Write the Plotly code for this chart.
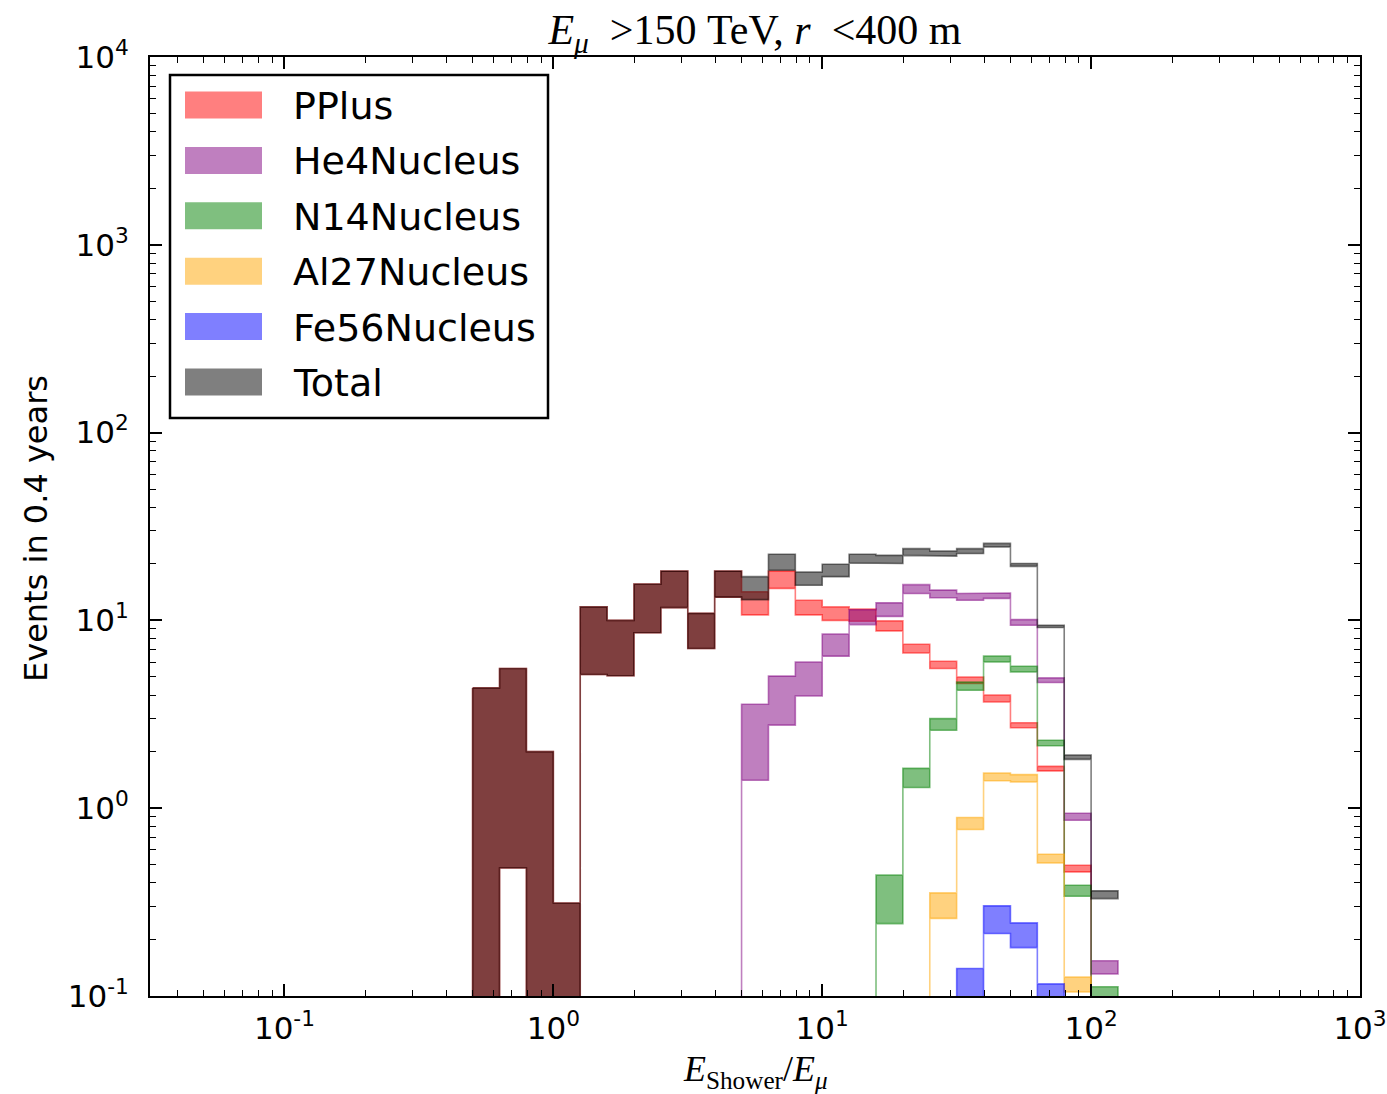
import plotly.graph_objects as go

# ---------------- data ----------------
bin_edges = [0.501, 0.631, 0.794, 1.0, 1.259, 1.585, 1.995, 2.512, 3.162, 3.981,
             5.012, 6.310, 7.943, 10.0, 12.59, 15.85, 19.95, 25.12, 31.62, 39.81,
             50.12, 63.10, 79.43, 100.0, 125.9]

pplus_upper = [4.37, 5.54, 2.0, 0.313, 11.8, 10.0, 15.6, 18.3, 10.9, 18.3,
               14.2, 18.3, 12.8, 11.8, 11.5, 9.94, 7.47, 6.06, 5.0, 4.0,
               2.85, 1.67, 0.497, 0]
pplus_lower = [0, 0.48, 0, 0, 5.15, 5.07, 8.6, 11.7, 7.08, 13.3,
               10.7, 14.8, 10.7, 10.0, 9.9, 8.79, 6.71, 5.54, 4.61, 3.68,
               2.68, 1.58, 0.458, 0]

he4_upper = [0, 0, 0, 0, 0, 0, 0, 0, 0, 0,
             3.58, 5.05, 6.01, 8.45, 11.4, 12.4, 15.5, 14.5, 13.9, 14.0,
             10.1, 4.94, 0.94, 0.154]
he4_lower = [0, 0, 0, 0, 0, 0, 0, 0, 0, 0,
             1.41, 2.77, 3.96, 6.45, 9.5, 10.5, 13.9, 13.2, 12.8, 13.1,
             9.43, 4.67, 0.863, 0.131]

n14_upper = [0, 0, 0, 0, 0, 0, 0, 0, 0, 0,
             0, 0, 0, 0, 0, 0.44, 1.63, 3.0, 4.7, 6.45,
             5.70, 2.30, 0.389, 0.112]
n14_lower = [0, 0, 0, 0, 0, 0, 0, 0, 0, 0,
             0, 0, 0, 0, 0, 0.243, 1.29, 2.6, 4.25, 6.01,
             5.32, 2.15, 0.340, 0]

al27_upper = [0, 0, 0, 0, 0, 0, 0, 0, 0, 0,
              0, 0, 0, 0, 0, 0, 0, 0.354, 0.892, 1.54,
              1.51, 0.569, 0.126, 0]
al27_lower = [0, 0, 0, 0, 0, 0, 0, 0, 0, 0,
              0, 0, 0, 0, 0, 0, 0, 0.259, 0.77, 1.40,
              1.38, 0.511, 0.105, 0]

fe56_upper = [0, 0, 0, 0, 0, 0, 0, 0, 0, 0,
              0, 0, 0, 0, 0, 0, 0, 0, 0.140, 0.302,
              0.245, 0.116, 0, 0]
fe56_lower = [0, 0, 0, 0, 0, 0, 0, 0, 0, 0,
              0, 0, 0, 0, 0, 0, 0, 0, 0, 0.215,
              0.181, 0, 0, 0]

total_upper = [4.37, 5.54, 2.0, 0.313, 11.8, 10.0, 15.6, 18.3, 10.9, 18.3,
               17.1, 22.5, 18.1, 19.9, 22.5, 22.2, 24.1, 23.4, 24.1, 25.7,
               20.1, 9.43, 1.92, 0.363]
total_lower = [0, 0.48, 0, 0, 5.15, 5.07, 8.6, 11.7, 7.08, 13.3,
               12.9, 18.5, 15.4, 17.1, 20.2, 20.1, 22.2, 22.0, 22.7, 24.6,
               19.4, 9.17, 1.82, 0.330]

series_names = ["PPlus", "He4Nucleus", "N14Nucleus", "Al27Nucleus", "Fe56Nucleus", "Total"]
series_upper = [pplus_upper, he4_upper, n14_upper, al27_upper, fe56_upper, total_upper]
series_lower = [pplus_lower, he4_lower, n14_lower, al27_lower, fe56_lower, total_lower]
series_rgb = [(255, 0, 0), (128, 0, 128), (0, 128, 0), (255, 165, 0), (0, 0, 255), (0, 0, 0)]

x_tick_vals = [0.1, 1, 10, 100, 1000]
x_tick_text = ["10<sup>-1</sup>", "10<sup>0</sup>", "10<sup>1</sup>", "10<sup>2</sup>", "10<sup>3</sup>"]
y_tick_vals = [0.1, 1, 10, 100, 1000, 10000]
y_tick_text = ["10<sup>-1</sup>", "10<sup>0</sup>", "10<sup>1</sup>", "10<sup>2</sup>",
               "10<sup>3</sup>", "10<sup>4</sup>"]

# ---------------- layout constants ----------------
W, H = 1387, 1094
L, R, T, B = 150, 1360, 57, 996
FLOOR = 1e-3  # stand-in for zero on the log axis (drawn below the visible range)


def px2paper_x(px):
    return (px - L) / (R - L)


def px2paper_y(py):
    return (B - py) / (B - T)


def band_polygon(edges, lower, upper):
    xs, ys = [], []
    n = len(upper)
    for i in range(n):
        v = upper[i] if upper[i] > 0 else FLOOR
        xs += [edges[i], edges[i + 1]]
        ys += [v, v]
    for i in reversed(range(n)):
        v = lower[i] if lower[i] > 0 else FLOOR
        xs += [edges[i + 1], edges[i]]
        ys += [v, v]
    xs.append(xs[0])
    ys.append(ys[0])
    return xs, ys


fig = go.Figure()
for name, lo, up, rgb in zip(series_names, series_lower, series_upper, series_rgb):
    xs, ys = band_polygon(bin_edges, lo, up)
    c = "rgba(%d,%d,%d,0.5)" % rgb
    fig.add_trace(go.Scatter(x=xs, y=ys, mode="lines", fill="toself",
                             fillcolor=c, line=dict(color=c, width=1.6),
                             name=name, showlegend=False, hoverinfo="skip"))

x_minor = [k * 10 ** e for e in range(-2, 3) for k in range(2, 10)]
x_minor = [v for v in x_minor if 10 ** -1.5 < v < 1000]
y_minor = [k * 10 ** e for e in range(-1, 4) for k in range(2, 10)]

tick_font = dict(family="DejaVu Sans", size=31, color="black")

fig.update_xaxes(type="log", range=[-1.5, 3], showgrid=False, zeroline=False, automargin=False,
                 showline=True, linecolor="black", linewidth=2, mirror="ticks",
                 ticks="inside", ticklen=12, tickwidth=1.5, tickcolor="black",
                 tickmode="array", tickvals=x_tick_vals, ticktext=x_tick_text,
                 tickfont=tick_font, ticklabelstandoff=4,
                 minor=dict(ticks="inside", ticklen=6, tickwidth=1.2, tickcolor="black",
                            tickmode="array", tickvals=x_minor, showgrid=False))
fig.update_yaxes(type="log", range=[-1, 4], showgrid=False, zeroline=False, automargin=False,
                 showline=True, linecolor="black", linewidth=2, mirror="ticks",
                 ticks="inside", ticklen=12, tickwidth=1.5, tickcolor="black",
                 tickmode="array", tickvals=y_tick_vals, ticktext=y_tick_text,
                 tickfont=tick_font, ticklabelstandoff=13,
                 minor=dict(ticks="inside", ticklen=6, tickwidth=1.2, tickcolor="black",
                            tickmode="array", tickvals=y_minor, showgrid=False))

# ---------------- legend (drawn manually to match large patches) ----------------
shapes = []
annotations = []
shapes.append(dict(type="rect", xref="paper", yref="paper",
                   x0=px2paper_x(170), x1=px2paper_x(548),
                   y0=px2paper_y(418), y1=px2paper_y(75),
                   line=dict(color="black", width=2.5), fillcolor="white", layer="above"))
row_y0 = 105
row_dy = 55.4
for i, (name, rgb) in enumerate(zip(series_names, series_rgb)):
    cy = row_y0 + i * row_dy
    c = "rgba(%d,%d,%d,0.5)" % rgb
    shapes.append(dict(type="rect", xref="paper", yref="paper",
                       x0=px2paper_x(185), x1=px2paper_x(262),
                       y0=px2paper_y(cy + 13.5), y1=px2paper_y(cy - 13.5),
                       line=dict(width=0), fillcolor=c, layer="above"))
    annotations.append(dict(xref="paper", yref="paper", x=px2paper_x(291), y=px2paper_y(cy + 1),
                            text=name, showarrow=False, xanchor="left", yanchor="middle",
                            font=dict(family="DejaVu Sans", size=38, color="black")))

# axis labels
annotations.append(dict(xref="paper", yref="paper", x=px2paper_x(755), y=px2paper_y(1071),
                        text="<i>E</i><sub>Shower</sub>/<i>E</i><sub><i>μ</i></sub>",
                        showarrow=False, xanchor="center", yanchor="middle",
                        font=dict(family="Liberation Serif", size=36, color="black")))
annotations.append(dict(xref="paper", yref="paper", x=px2paper_x(36), y=px2paper_y(529),
                        text="Events in 0.4 years", textangle=-90,
                        showarrow=False, xanchor="center", yanchor="middle",
                        font=dict(family="DejaVu Sans", size=32, color="black")))

fig.update_layout(
    width=W, height=H,
    margin=dict(l=L, r=W - R, t=T, b=H - B, pad=0, autoexpand=False),
    paper_bgcolor="white", plot_bgcolor="white",
    title=dict(text="<i>E</i><sub><i>μ</i></sub>  &gt;150 TeV, <i>r</i>  &lt;400 m",
               x=755 / W, xanchor="center", y=1 - 29 / H, yanchor="middle",
               font=dict(family="Liberation Serif", size=42, color="black")),
    shapes=shapes, annotations=annotations, showlegend=False,
)

fig.write_html("out.html")
